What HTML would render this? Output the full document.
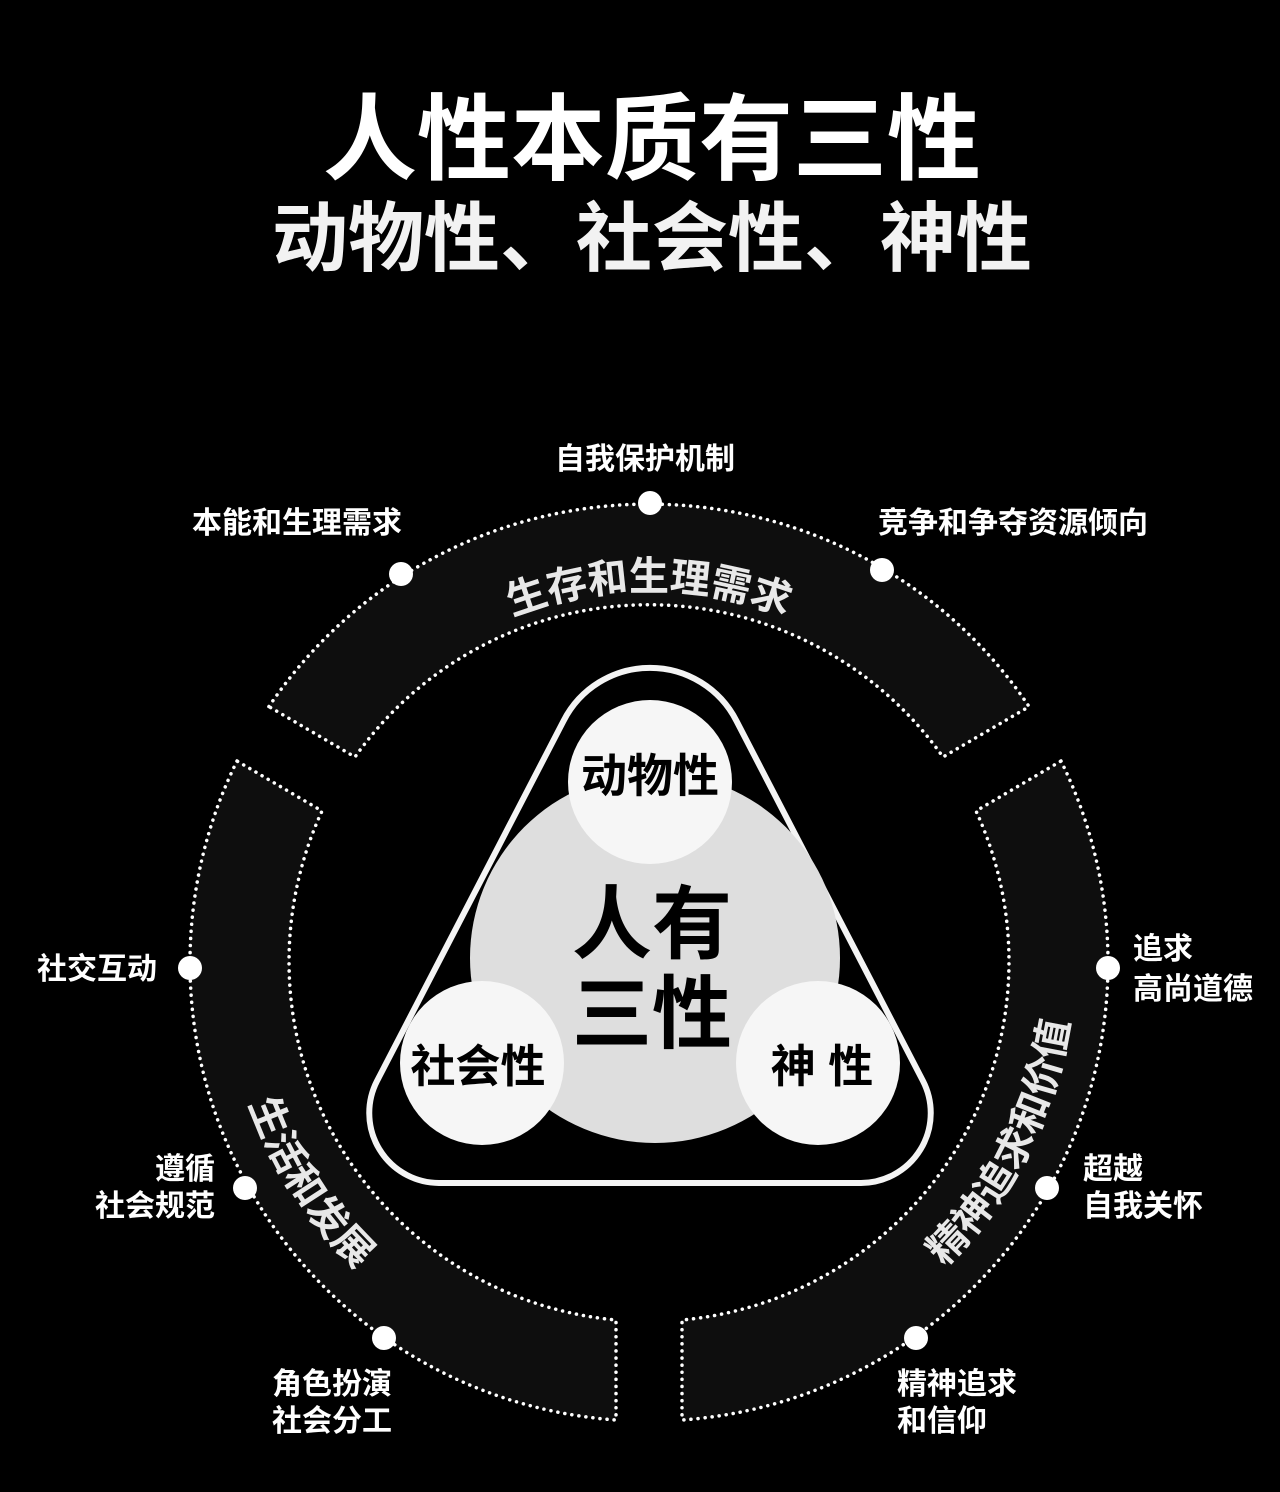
<!DOCTYPE html>
<html><head><meta charset="utf-8"><style>
html,body{margin:0;padding:0;background:#000;}
body{width:1280px;height:1492px;overflow:hidden;}
svg{display:block;}
text{font-family:"Liberation Sans","Noto Sans CJK SC",sans-serif;font-weight:bold;}
</style></head><body>
<svg width="1280" height="1492" viewBox="0 0 1280 1492" xmlns="http://www.w3.org/2000/svg">
<rect width="1280" height="1492" fill="#000"/>
<text x="652" y="172" fill="#fff" font-size="94" text-anchor="middle" font-weight="900">人性本质有三性</text>
<text x="652" y="265" fill="#f2f2f2" font-size="76" text-anchor="middle" font-weight="900">动物性、社会性、神性</text>

<defs>
<path id="pTop" d="M386,699 A372 372 0 0 1 912,699"/>
<path id="pLeft" d="M225.6,984.2 A424 424 0 0 0 456.5,1339.8"/>
<path id="pRight" d="M880.1,1317.7 A424 424 0 0 0 1072.4,939.8"/>
</defs>

<g fill="#0e0e0e" stroke="#fff" stroke-width="3.5" stroke-dasharray="0.1 7" stroke-linecap="round">
<path d="M268.9,706.6 A458 458 0 0 1 1029.1,706.6 L943,757 A360 360 0 0 0 355,757 Z"/>
<path d="M237,761 A458 458 0 0 0 616,1420 L616,1320 A360 360 0 0 1 322,811 Z"/>
<path d="M1061,761 A458 458 0 0 1 682,1420 L682,1320 A360 360 0 0 0 976,811 Z"/>
</g>

<text fill="#e8e8e8" font-size="40"><textPath href="#pTop" startOffset="50%" text-anchor="middle">生存和生理需求</textPath></text>
<text fill="#e8e8e8" font-size="40"><textPath href="#pLeft" startOffset="50%" text-anchor="middle">生活和发展</textPath></text>
<text fill="#e8e8e8" font-size="40"><textPath href="#pRight" startOffset="50%" text-anchor="middle">精神追求和价值</textPath></text>

<g fill="#fff">
<circle cx="650" cy="503" r="12"/>
<circle cx="401" cy="574" r="12"/>
<circle cx="882" cy="570" r="12"/>
<circle cx="190" cy="968" r="12"/>
<circle cx="1108" cy="968" r="12"/>
<circle cx="245" cy="1188" r="12"/>
<circle cx="1047" cy="1188" r="12"/>
<circle cx="384" cy="1338" r="12"/>
<circle cx="916" cy="1338" r="12"/>
</g>

<path d="M563.5,721 A97 97 0 0 1 736.5,721 L923,1081 A70 70 0 0 1 861,1183 L439,1183 A70 70 0 0 1 377,1081 Z" fill="#000" stroke="#f4f4f4" stroke-width="6"/>

<circle cx="655" cy="958" r="185" fill="#dedede"/>
<circle cx="650" cy="782" r="82" fill="#f6f6f6"/>
<circle cx="482" cy="1063" r="82" fill="#f6f6f6"/>
<circle cx="818" cy="1063" r="82" fill="#f6f6f6"/>

<g fill="#000" text-anchor="middle">
<text x="650" y="792" font-size="46">动物性</text>
<text x="478" y="1082" font-size="45">社会性</text>
<text x="822" y="1082" font-size="45">神 性</text>
<text x="652" y="952" font-size="80" font-weight="900">人有</text>
<text x="652" y="1042" font-size="80" font-weight="900">三性</text>
</g>

<g fill="#fff" font-size="30">
<text x="645" y="469" text-anchor="middle">自我保护机制</text>
<text x="297" y="533" text-anchor="middle">本能和生理需求</text>
<text x="1013" y="533" text-anchor="middle">竞争和争夺资源倾向</text>
<text x="97" y="979" text-anchor="middle">社交互动</text>
<text x="1133" y="959">追求</text>
<text x="1133" y="999">高尚道德</text>
<text x="215" y="1179" text-anchor="end">遵循</text>
<text x="215" y="1216" text-anchor="end">社会规范</text>
<text x="1083" y="1179">超越</text>
<text x="1083" y="1216">自我关怀</text>
<text x="272" y="1394">角色扮演</text>
<text x="272" y="1431">社会分工</text>
<text x="897" y="1394">精神追求</text>
<text x="897" y="1431">和信仰</text>
</g>
</svg>
</body></html>
